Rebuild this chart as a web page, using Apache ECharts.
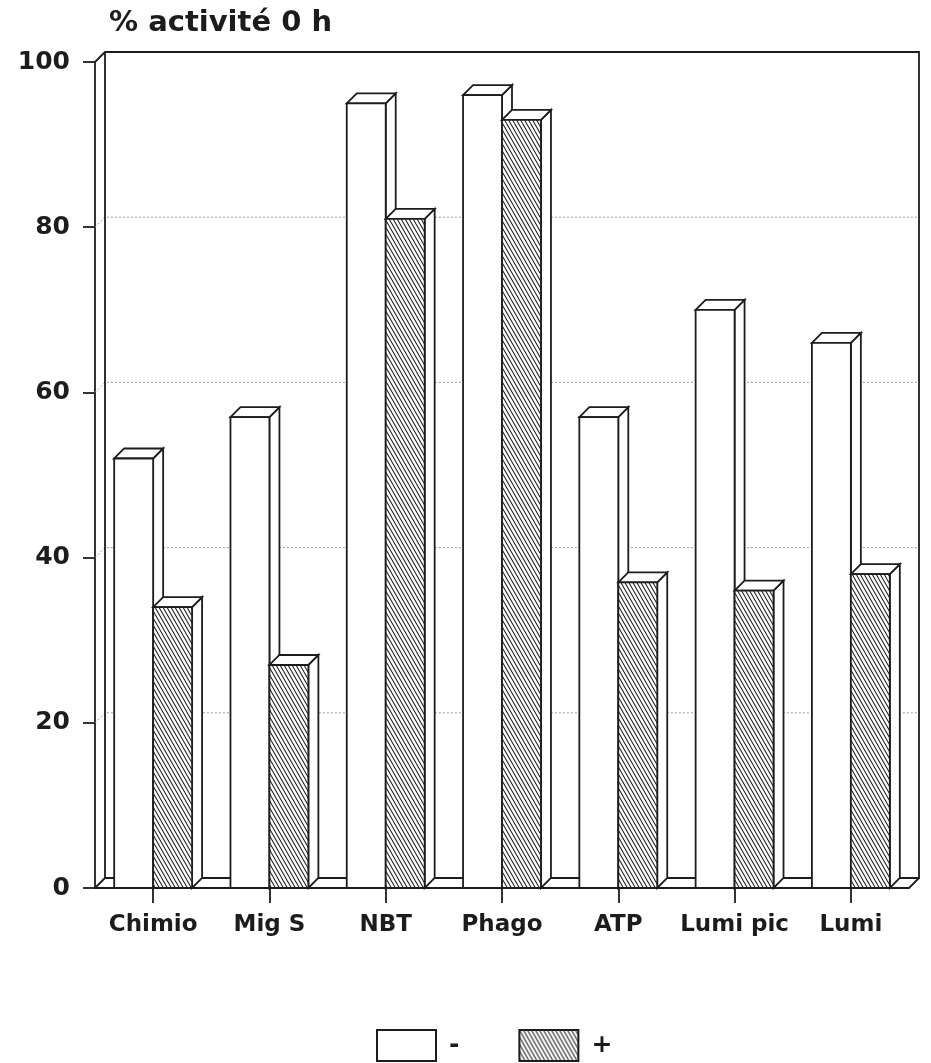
<!DOCTYPE html>
<html>
<head>
<meta charset="utf-8">
<script src="https://cdn.jsdelivr.net/npm/echarts@6/dist/echarts.min.js"></script>
<style>
  html, body { margin: 0; padding: 0; background: #fff; }
  #chart { width: 931px; height: 1063px; }
</style>
</head>
<body>
<div id="chart"></div>
<script>
// values
const categories = ['Chimio', 'Mig S', 'NBT', 'Phago', 'ATP', 'Lumi pic', 'Lumi'];
const minusValues = [52, 57, 95, 96, 57, 70, 66];
const plusValues = [34, 27, 81, 93, 37, 36, 38];
const gridValues = [20, 40, 60, 80];

const DEPTH = 10;       // 3D offset (px right / up)
const BAR_RATIO = 0.335; // front face width / category band
const INK = '#1c1c1c';
const FONT = 'DejaVu Sans';
const LW = 1.8;

// diagonal hatch "\\\\" used for the + series
function makeHatch() {
    const c = document.createElement('canvas');
    c.width = 4;
    c.height = 7;
    const ctx = c.getContext('2d');
    ctx.fillStyle = '#fff';
    ctx.fillRect(0, 0, 4, 7);
    ctx.strokeStyle = INK;
    ctx.lineWidth = 1.1;
    [-4, 0, 4].forEach(dx => {
        ctx.beginPath();
        ctx.moveTo(dx - 4, -7);
        ctx.lineTo(dx + 8, 14);
        ctx.stroke();
    });
    return c;
}
const hatch = { image: makeHatch(), repeat: 'repeat' };

// side < 0 : bar sits left of the category centre, otherwise right
const barRenderer = (side, fill) => (params, api) => {
    const top = api.coord([api.value(0), api.value(1)]);
    const base = api.coord([api.value(0), 0]);
    const w = api.size([1, 0])[0] * BAR_RATIO;
    const x0 = side < 0 ? top[0] - w : top[0];
    const x1 = x0 + w;
    const y = top[1];
    const yb = base[1];
    const line = { stroke: INK, lineWidth: LW };
    return {
        type: 'group',
        children: [
            { type: 'polygon', shape: { points: [[x1, y], [x1 + DEPTH, y - DEPTH], [x1 + DEPTH, yb - DEPTH], [x1, yb]] }, style: { fill: '#fff', ...line } },
            { type: 'polygon', shape: { points: [[x0, y], [x0 + DEPTH, y - DEPTH], [x1 + DEPTH, y - DEPTH], [x1, y]] }, style: { fill: '#fff', ...line } },
            { type: 'rect', shape: { x: x0, y: y, width: w, height: yb - y }, style: { fill: fill, ...line } }
        ]
    };
};

// back wall, left wall and floor of the box
const frameRenderer = (params, api) => {
    const cs = params.coordSys;
    const L = cs.x, R = cs.x + cs.width, T = cs.y, B = cs.y + cs.height;
    const solid = { stroke: INK, lineWidth: LW, fill: null };
    const dotted = { stroke: '#9a9a9a', lineWidth: 1, lineDash: [2, 2], fill: null };
    const children = [];
    gridValues.forEach(v => {
        const y = api.coord([0, v])[1];
        children.push({ type: 'polyline', shape: { points: [[L, y], [L + DEPTH, y - DEPTH], [R + DEPTH, y - DEPTH]] }, style: dotted });
    });
    children.push({
        type: 'polyline',
        shape: { points: [[L, T], [L + DEPTH, T - DEPTH], [R + DEPTH, T - DEPTH], [R + DEPTH, B - DEPTH], [L + DEPTH, B - DEPTH], [L + DEPTH, T - DEPTH]] },
        style: solid
    });
    children.push({ type: 'line', shape: { x1: L, y1: B, x2: L + DEPTH, y2: B - DEPTH }, style: solid });
    children.push({ type: 'line', shape: { x1: R, y1: B, x2: R + DEPTH, y2: B - DEPTH }, style: solid });
    return { type: 'group', children };
};

const chart = echarts.init(document.getElementById('chart'));

const option = {
    backgroundColor: '#fff',
    animation: false,
    title: {
        text: '% activité 0 h',
        left: 104,
        top: 4,
        textStyle: { fontFamily: FONT, fontWeight: 'bold', fontSize: 29, color: INK }
    },
    legend: {
        data: ['-', '+'],
        left: 371,
        top: 1024,
        icon: 'rect',
        itemWidth: 59,
        itemHeight: 31,
        itemGap: 59,
        selectedMode: false,
        itemStyle: { borderColor: INK, borderWidth: 2 },
        textStyle: { fontFamily: FONT, fontWeight: 'bold', fontSize: 25, color: INK, padding: [0, 0, 0, 8] }
    },
    grid: { left: 95, right: 22, top: 62, bottom: 175 },
    xAxis: {
        type: 'category',
        data: categories,
        boundaryGap: true,
        axisLine: { show: true, lineStyle: { color: INK, width: LW } },
        axisTick: { show: true, alignWithLabel: true, interval: 0, length: 15, lineStyle: { color: INK, width: LW } },
        axisLabel: { interval: 0, margin: 26, color: INK, fontSize: 23, fontWeight: 'bold', fontFamily: FONT },
        splitLine: { show: false }
    },
    yAxis: {
        type: 'value',
        min: 0,
        max: 100,
        interval: 20,
        axisLine: { show: true, lineStyle: { color: INK, width: LW } },
        axisTick: { show: true, length: 12, lineStyle: { color: INK, width: LW } },
        axisLabel: { margin: 25, color: INK, fontSize: 25, fontWeight: 'bold', fontFamily: FONT },
        splitLine: { show: false }
    },
    series: [
        {
            type: 'custom',
            name: 'frame',
            silent: true,
            z: 1,
            renderItem: frameRenderer,
            data: [[0, 0]]
        },
        {
            type: 'custom',
            name: '-',
            z: 2,
            itemStyle: { color: '#fff' },
            renderItem: barRenderer(-1, '#fff'),
            data: minusValues.map((v, i) => [i, v])
        },
        {
            type: 'custom',
            name: '+',
            z: 2,
            itemStyle: { color: hatch },
            renderItem: barRenderer(1, hatch),
            data: plusValues.map((v, i) => [i, v])
        }
    ]
};

chart.setOption(option);
</script>
</body>
</html>
